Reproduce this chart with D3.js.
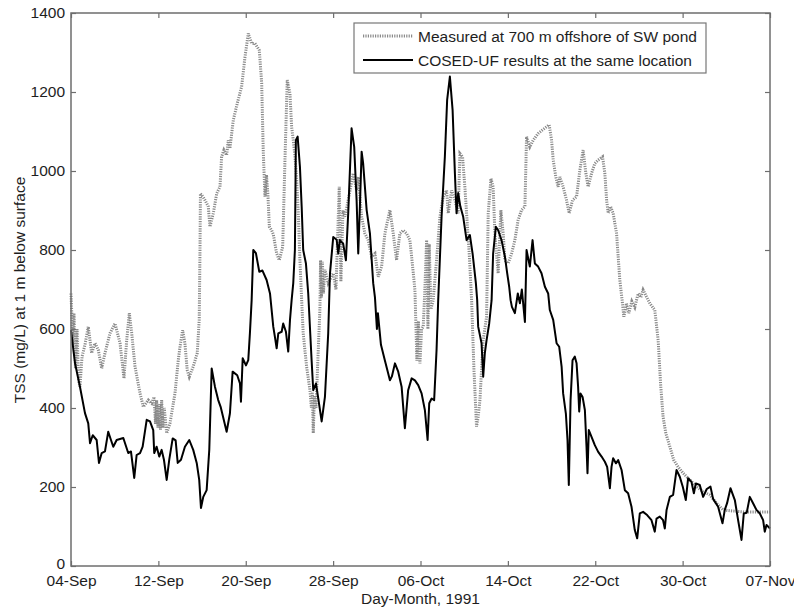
<!DOCTYPE html>
<html><head><meta charset="utf-8">
<script src="https://cdn.jsdelivr.net/npm/d3@7"></script>
<style>
body{margin:0;background:#fff;}
svg{display:block;font-family:"Liberation Sans",Arial,sans-serif;}
</style></head>
<body><svg id="c" width="794" height="611"></svg>
<script>
const xTickDays = [0,8,16,24,32,40,48,56,64];
const xTickLabels = ["04-Sep","12-Sep","20-Sep","28-Sep","06-Oct","14-Oct","22-Oct","30-Oct","07-Nov"];
const yTicks = [0,200,400,600,800,1000,1200,1400];
const seriesNames = ["Measured at 700 m offshore of SW pond","COSED-UF results at the same location"];

const measDay = [0,0.18,0.27,0.41,0.55,0.69,0.82,1.01,1.28,1.58,
1.89,2.20,2.50,2.81,3.11,3.57,4.03,4.49,4.85,5.10,
5.34,5.56,5.86,6.32,6.62,7.08,7.39,7.60,7.74,7.84,
7.96,8.08,8.19,8.30,8.42,8.54,8.76,9.06,9.52,9.82,
9.98,10.22,10.43,10.64,10.83,11.19,11.56,11.74,11.81,11.85,
12.08,12.27,12.57,12.72,13.03,13.34,13.64,13.79,14.00,14.25,
14.40,14.55,14.86,15.22,15.62,15.93,16.23,16.54,16.84,17.24,
17.46,17.60,17.76,17.90,18.03,18.16,18.37,18.52,18.83,19.07,
19.38,19.59,19.80,20.05,20.20,20.35,20.50,20.66,20.81,20.96,
21.12,21.26,21.57,21.88,22.01,22.10,22.18,22.29,22.43,22.64,
22.79,22.85,22.93,23.02,23.11,23.25,23.55,24.01,24.26,24.56,
24.71,24.90,25.08,25.38,25.84,26.15,26.30,26.61,26.91,27.21,
27.52,27.83,28.13,28.44,28.74,29.20,29.50,29.81,30.11,30.42,
30.72,31.03,31.28,31.49,31.67,31.81,31.95,32.10,32.25,32.40,
32.56,32.68,32.80,32.95,33.16,33.47,33.78,34.08,34.39,34.54,
34.85,35.15,35.45,35.61,35.85,36.06,36.46,36.68,36.89,37.13,
37.28,37.44,37.74,38.05,38.20,38.45,38.65,38.81,39.11,39.36,
39.57,39.73,40.03,40.34,40.64,40.94,41.25,41.56,41.71,42.01,
42.32,42.77,43.17,43.78,44.00,44.15,44.39,44.60,44.76,45.06,
45.37,45.61,45.92,46.29,46.59,46.89,47.14,47.35,47.66,47.96,
48.27,48.67,48.88,49.04,49.19,49.40,49.64,49.95,50.25,50.46,
50.62,50.86,51.07,51.35,51.62,51.93,52.17,52.38,52.72,53.00,
53.45,53.76,53.98,54.21,54.46,54.83,55.19,55.58,56.05,56.66,
57.27,57.88,58.49,59.10,59.71,60.32,61.54,62.76,64];
const measTSS = [690,560,640,500,600,470,454,530,560,606,
539,564,547,500,539,589,614,564,475,572,
640,589,505,437,403,420,412,428,360,420,
350,410,345,420,350,400,336,361,437,521,
555,597,564,496,479,505,539,623,800,943,
935,926,910,859,893,943,960,1036,1053,1040,
1078,1057,1129,1171,1213,1289,1348,1323,1323,1306,
1222,1053,935,990,940,859,850,840,791,774,
808,1028,1230,1196,1112,1078,1040,977,893,774,
673,589,505,445,400,440,336,430,400,547,
650,774,680,770,690,750,716,741,700,960,
720,900,884,926,994,951,985,884,842,825,
783,791,732,758,842,901,842,774,842,850,
842,825,758,699,520,620,513,600,606,700,
825,600,816,650,673,774,884,935,951,893,
951,926,893,1044,1036,960,791,673,500,353,
378,420,572,631,893,981,960,842,741,901,
842,774,766,791,825,876,901,910,1087,1061,
1078,1095,1104,1117,1078,1028,985,960,985,960,
926,893,926,935,1002,1053,994,960,994,1019,
1028,1036,994,926,893,910,893,842,724,673,
631,665,640,670,655,690,680,699,680,665,
648,572,462,378,336,302,268,251,235,218,
201,188,180,159,142,140,137,137,137];

const modelDay = [0,0.37,0.82,1.28,1.58,1.74,1.99,2.35,2.56,2.81,
3.11,3.41,3.66,3.87,4.18,4.79,5.24,5.49,5.79,6.01,
6.32,6.56,6.93,7.23,7.53,7.62,7.84,8.08,8.30,8.51,
8.76,9.00,9.31,9.58,9.77,10.07,10.43,10.83,11.19,11.51,
11.74,11.90,12.11,12.42,12.66,12.88,13.18,13.48,13.70,14.25,
14.55,14.80,15.22,15.47,15.56,15.72,16.02,16.23,16.38,16.54,
16.69,16.93,17.24,17.53,17.91,18.22,18.52,18.67,18.83,18.98,
19.29,19.43,19.68,19.89,20.05,20.20,20.35,20.50,20.59,20.75,
20.96,21.12,21.26,21.51,21.72,22.03,22.18,22.43,22.64,22.95,
23.25,23.55,23.71,24.01,24.32,24.47,24.62,24.92,25.17,25.38,
25.69,25.93,26.15,26.30,26.45,26.61,26.75,27.07,27.37,27.67,
27.83,28.01,28.10,28.38,28.74,29.02,29.20,29.38,29.66,29.96,
30.27,30.57,30.87,31.19,31.49,31.79,32.10,32.40,32.65,32.80,
33.02,33.25,33.47,33.62,33.93,34.23,34.44,34.69,34.94,35.15,
35.30,35.45,35.65,35.91,36.22,36.52,36.77,37.07,37.19,37.28,
37.59,37.74,37.89,38.05,38.29,38.51,38.65,38.90,39.11,39.42,
39.73,39.94,40.12,40.25,40.37,40.64,40.91,41.10,41.28,41.56,
41.71,42.01,42.26,42.47,42.77,43.08,43.39,43.69,43.84,44.15,
44.46,44.70,44.92,45.06,45.31,45.46,45.58,45.74,45.92,46.13,
46.29,46.43,46.53,46.65,46.84,47.05,47.20,47.29,47.41,47.66,
47.96,48.27,48.58,48.88,49.09,49.34,49.49,49.64,49.89,50.10,
50.41,50.71,51.01,51.32,51.62,51.84,52.08,52.38,52.75,53.15,
53.45,53.61,53.91,54.21,54.37,54.53,54.83,55.13,55.44,55.74,
56.02,56.29,56.50,56.81,57.03,57.21,57.57,57.88,58.21,58.55,
58.79,59.25,59.65,59.86,60.07,60.38,60.78,61.08,61.39,61.60,
61.87,62.15,62.45,62.76,63.07,63.37,63.52,63.68,64];
const modelTSS = [597,513,454,387,361,311,331,319,261,286,
290,340,319,302,319,324,286,290,223,281,
286,302,370,366,344,286,302,277,294,269,
218,270,323,318,261,269,302,319,294,261,
218,147,175,192,294,500,454,420,403,340,
386,492,483,462,416,526,508,521,589,673,
800,792,745,748,724,690,606,580,551,589,
593,614,593,543,623,673,716,800,1078,1087,
1011,910,800,766,690,521,445,462,424,366,
428,589,740,833,826,791,825,816,774,892,
1108,1061,926,791,910,1049,1019,901,842,716,
680,600,640,560,520,490,470,480,513,492,
454,349,445,475,470,458,437,395,319,412,
424,420,547,673,884,1036,1180,1239,1154,994,
893,944,910,884,825,838,791,716,673,606,
564,479,539,572,614,673,791,859,850,825,
783,741,707,673,656,640,690,665,700,618,
800,758,825,766,758,741,707,690,648,623,
564,555,505,437,386,319,205,420,521,530,
513,454,391,437,428,395,302,235,344,327,
306,289,277,264,251,197,251,273,260,268,
243,192,184,150,91,70,133,137,129,116,
87,120,125,116,95,142,175,180,243,226,
200,167,222,213,184,209,205,175,195,201,
170,150,108,142,159,197,167,116,66,133,
135,175,159,142,133,116,87,104,95];

const svg = d3.select("#c");
const L = 71, R = 770, T = 13, B = 566;
const x = d3.scaleLinear().domain([0,64]).range([L,R]);
const y = d3.scaleLinear().domain([0,1400]).range([B,T]);
const axisCol = "#6e6e6e", textCol = "#1e1e1e", fs = "15.5px";

const meas = measDay.map((d,i)=>[d,measTSS[i]]);
const model = modelDay.map((d,i)=>[d,modelTSS[i]]);
const line = d3.line().x(d=>x(d[0])).y(d=>y(d[1]));

svg.append("path").datum(meas).attr("d",line)
  .attr("fill","none").attr("stroke","#8a8a8a").attr("stroke-width",3)
  .attr("stroke-dasharray","1.2,1.2");
svg.append("path").datum(model).attr("d",line)
  .attr("fill","none").attr("stroke","#000").attr("stroke-width",2)
  .attr("stroke-linejoin","round");

function styleAxis(g, labels){
  g.select(".domain").remove();
  g.selectAll(".tick line").attr("stroke",axisCol).attr("stroke-width",1.2);
  g.selectAll(".tick text").attr("fill",textCol).style("font-size",fs);
  if(!labels) g.selectAll(".tick text").remove();
}
const gB = svg.append("g").attr("transform",`translate(0,${B})`)
  .call(d3.axisBottom(x).tickValues(xTickDays).tickSize(-5).tickPadding(9)
    .tickFormat((d,i)=>xTickLabels[i]));
styleAxis(gB,true);
const gT = svg.append("g").attr("transform",`translate(0,${T})`)
  .call(d3.axisTop(x).tickValues(xTickDays).tickSize(-5));
styleAxis(gT,false);
const gL = svg.append("g").attr("transform",`translate(${L},0)`)
  .call(d3.axisLeft(y).tickValues(yTicks).tickSize(-5).tickPadding(6).tickFormat(d3.format("d")));
styleAxis(gL,true);
gL.selectAll(".tick text").filter(d=>d===0).attr("dy","0.15em");
const gR = svg.append("g").attr("transform",`translate(${R},0)`)
  .call(d3.axisRight(y).tickValues(yTicks).tickSize(-5));
styleAxis(gR,false);

svg.append("rect").attr("x",L).attr("y",T).attr("width",R-L).attr("height",B-T)
  .attr("fill","none").attr("stroke",axisCol).attr("stroke-width",1.5);

svg.append("text").attr("x",(L+R)/2).attr("y",604).attr("text-anchor","middle")
  .attr("fill",textCol).style("font-size",fs).text("Day-Month, 1991");
svg.append("text").attr("transform","translate(24.5,290) rotate(-90)")
  .attr("text-anchor","middle").attr("fill",textCol).style("font-size",fs)
  .text("TSS (mg/L) at 1 m below surface");

// legend
const lg = svg.append("g");
lg.append("rect").attr("x",354).attr("y",23).attr("width",352).attr("height",50)
  .attr("fill","#fff").attr("stroke","#777").attr("stroke-width",1.2);
const rows = [{y:36, stroke:"#8a8a8a", w:3, dash:"1.2,1.2"},{y:60, stroke:"#000", w:2, dash:null}];
rows.forEach((r,i)=>{
  lg.append("line").attr("x1",363).attr("x2",413).attr("y1",r.y).attr("y2",r.y)
    .attr("stroke",r.stroke).attr("stroke-width",r.w).attr("stroke-dasharray",r.dash);
  lg.append("text").attr("x",418).attr("y",r.y+5.5).attr("fill",textCol)
    .style("font-size",fs).text(seriesNames[i]);
});
</script></body></html>
